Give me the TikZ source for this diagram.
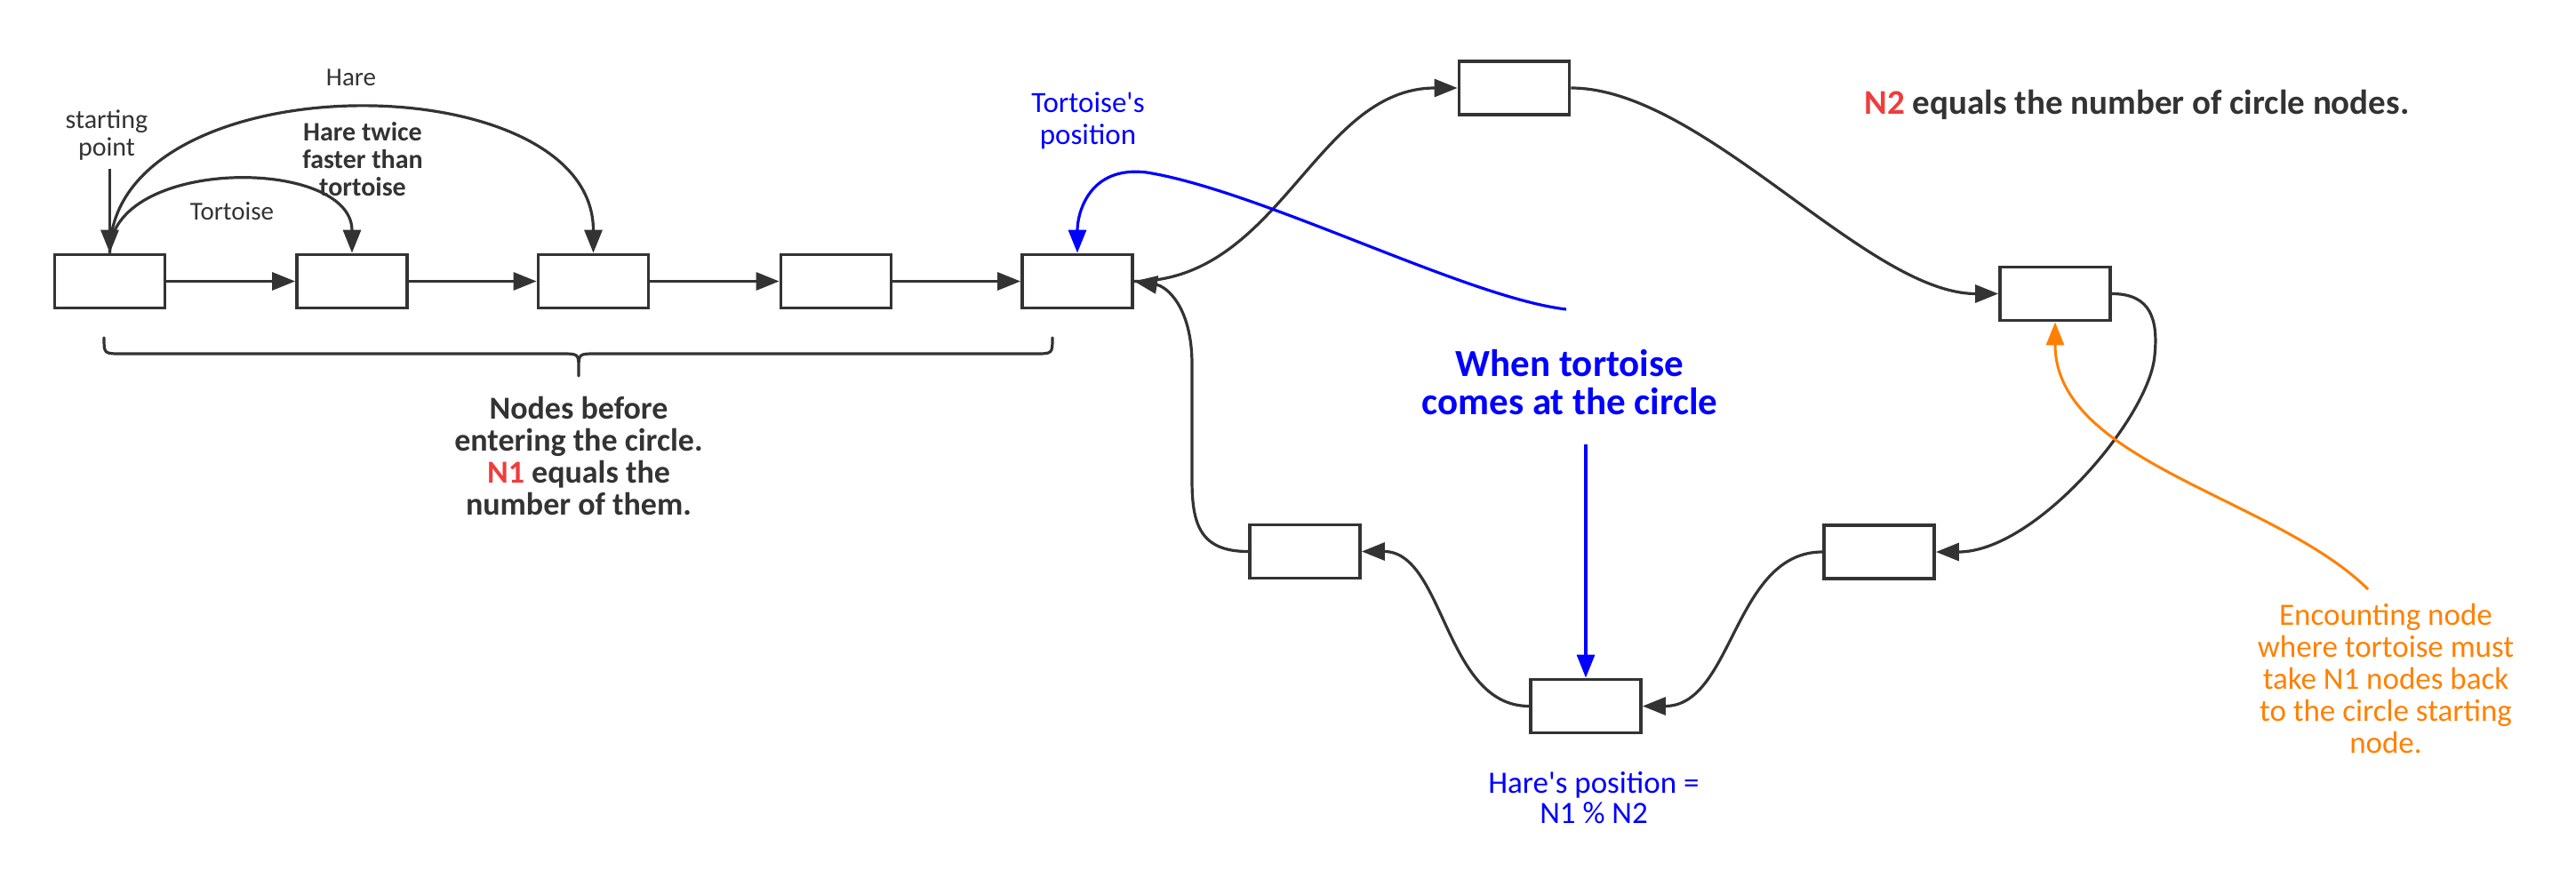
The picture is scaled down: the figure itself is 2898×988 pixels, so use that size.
\documentclass[tikz,border=0pt]{standalone}
\usepackage{fontspec}
\setmainfont{Carlito}
\usetikzlibrary{arrows.meta}
\definecolor{dk}{HTML}{333333}
\definecolor{nred}{HTML}{F03C3C}
\definecolor{nblue}{HTML}{0000FF}
\definecolor{norange}{HTML}{FF8000}
\begin{document}
\begin{tikzpicture}[x=1pt,y=-1pt,
  box/.style={draw=dk,line width=3.8pt,minimum width=124pt,minimum height=60pt,inner sep=0pt,fill=white},
  conn/.style={draw=dk,line width=3.2pt},
  bconn/.style={draw=nblue,line width=3.2pt},
  oconn/.style={draw=norange,line width=3pt},
  arr/.style={-{Triangle[length=26pt,width=20pt]}},
  lbl/.style={inner sep=0pt,align=center,text=dk},
]
\fill[white] (0,0) rectangle (2898,988);
\useasboundingbox (0,0) rectangle (2898,988);

% nodes
\node[box] (n1) at (123.5,316.5) {};
\node[box] (n2) at (396,316.5) {};
\node[box] (n3) at (667.5,316.5) {};
\node[box] (n4) at (940.5,316.5) {};
\node[box] (n5) at (1212,316.5) {};
\node[box] (top) at (1703.5,99) {};
\node[box] (rgt) at (2312,330.5) {};
\node[box] (br) at (2114,621) {};
\node[box] (bot) at (1784,794.5) {};
\node[box] (bl) at (1468,620.5) {};

% straight chain
\draw[conn,arr] (n1.east) -- (n2.west);
\draw[conn,arr] (n2.east) -- (n3.west);
\draw[conn,arr] (n3.east) -- (n4.west);
\draw[conn,arr] (n4.east) -- (n5.west);

% starting point
\coordinate (spend) at (123.5,190);
\draw[conn,arr] (spend) -- (n1.north);
\node[lbl,font={\fontsize{30pt}{31pt}\selectfont}] (sp) at (120,152) {starting\\point};

% arcs
\draw[conn,arr] (n1.north) .. controls (123.5,176) and (396,176) .. (n2.north);
\draw[conn,arr] (n1.north) .. controls (123.5,68) and (667.5,68) .. (n3.north);
\node[lbl,font={\fontsize{29pt}{31pt}\selectfont}] (hare) at (395,87) {Hare};
\node[lbl,font={\fontsize{29pt}{31pt}\selectfont}] (tort) at (261,238) {Tortoise};
\node[lbl,font={\fontsize{30pt}{31pt}\selectfont\bfseries}] (twice) at (408,179) {Hare twice\\faster than\\tortoise};

% circle
\draw[conn,arr] (n5.east) .. controls (1440,317) and (1480,99) .. (top.west);
\draw[conn,arr] (top.east) .. controls (1916,99) and (2100,330.5) .. (rgt.west);
\draw[conn,arr] (rgt.east) .. controls (2420,330.5) and (2428,360) .. (2424,400) .. controls (2418,470) and (2290,621) .. (br.east);
\draw[conn,arr] (br.west) .. controls (1950,621) and (1950,794.5) .. (bot.east);
\draw[conn,arr] (bot.west) .. controls (1625,794.5) and (1625,620.5) .. (bl.east);
\draw[conn,arr] (bl.west) .. controls (1350,620.5) and (1341,590) .. (1341,540) -- (1341,410) .. controls (1341,345) and (1312,322) .. (n5.east);

% brace
\draw[draw=dk,line width=3.2pt,line cap=round]
  (117,380) .. controls (117,398) .. (137,398) -- (631,398) .. controls (651,398) .. (651,415) -- (651,423)
  (651,415) .. controls (651,398) .. (671,398) -- (1164,398) .. controls (1184,398) .. (1184,380);
\node[lbl,font={\fontsize{36pt}{36pt}\selectfont\bfseries}] (before) at (651,513) {Nodes before\\entering the circle.\\\textcolor{nred}{N1} equals the\\number of them.};

% blue annotations
\node[lbl,text=nblue,font={\fontsize{33pt}{36pt}\selectfont}] (tpos) at (1224,136) {Tortoise\textquotesingle s\\position};
\coordinate (bstart) at (1762,348);
\draw[bconn,arr] (bstart) .. controls (1650,335) and (1420,215) .. (1290,194) .. controls (1225,186) and (1212,240) .. (n5.north);
\node[lbl,text=nblue,font={\fontsize{43pt}{43pt}\selectfont\bfseries}] (when) at (1766,430) {When tortoise\\comes at the circle};
\coordinate (vstart) at (1784,500);
\draw[bconn,arr] (vstart) -- (bot.north);
\node[lbl,text=nblue,font={\fontsize{35pt}{34pt}\selectfont}] (hpos) at (1793,898) {Hare\textquotesingle s position =\\ N1 \% N2};

% N2 text
\node[lbl,font={\fontsize{39pt}{40pt}\selectfont\bfseries}] (n2txt) at (2404,118) {\textcolor{nred}{N2} equals the number of circle nodes.};

% orange annotation
\coordinate (ostart) at (2664,663);
\draw[oconn,arr] (ostart) .. controls (2560,560) and (2312,520) .. (rgt.south);
\node[lbl,text=norange,font={\fontsize{35pt}{36pt}\selectfont}] (enc) at (2684,763) {Encounting node\\where tortoise must\\take N1 nodes back\\to the circle starting\\node.};
\end{tikzpicture}
\end{document}
